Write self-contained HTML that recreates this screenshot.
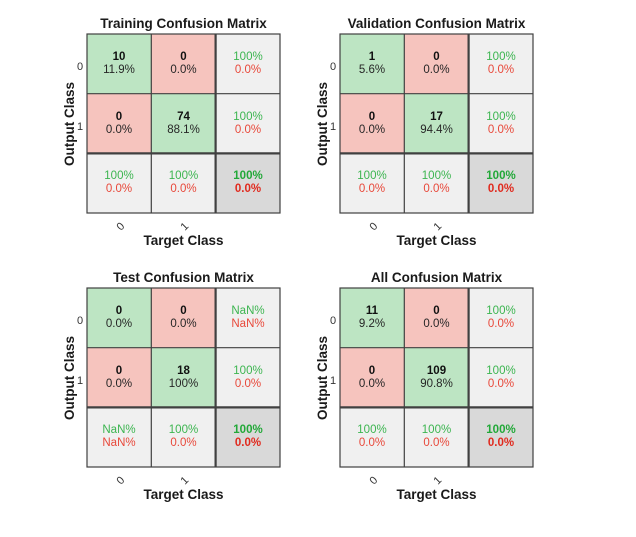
<!DOCTYPE html>
<html><head><meta charset="utf-8"><style>
html,body{margin:0;padding:0;background:#fff;}
svg{display:block;font-family:"Liberation Sans",Arial,sans-serif;}
.t{font-size:13.5px;font-weight:bold;fill:#1a1a1a;text-anchor:middle}
.n{font-size:11.5px;font-weight:bold;fill:#111;text-anchor:middle}
.p{font-size:11.5px;fill:#262626;text-anchor:middle}
.g{font-size:11.5px;fill:#3cb550;text-anchor:middle}
.r{font-size:11.5px;fill:#e8483a;text-anchor:middle}
.gb{font-size:11.5px;font-weight:bold;fill:#22a838;text-anchor:middle}
.rb{font-size:11.5px;font-weight:bold;fill:#e02a1e;text-anchor:middle}
.k{font-size:11px;fill:#333;text-anchor:middle}
.ax{font-size:13.5px;font-weight:bold;fill:#1a1a1a;text-anchor:middle}
</style></head><body>
<svg width="636" height="537" viewBox="0 0 636 537">
<defs>
<g id="bg">
<rect x="0" y="0" width="64.3" height="59.7" fill="#bde5c3"/>
<rect x="64.3" y="0" width="64.3" height="59.7" fill="#f6c4be"/>
<rect x="128.6" y="0" width="64.4" height="59.7" fill="#f0f0f0"/>
<rect x="0" y="59.7" width="64.3" height="59.7" fill="#f6c4be"/>
<rect x="64.3" y="59.7" width="64.3" height="59.7" fill="#bde5c3"/>
<rect x="128.6" y="59.7" width="64.4" height="59.7" fill="#f0f0f0"/>
<rect x="0" y="119.4" width="64.3" height="59.6" fill="#f0f0f0"/>
<rect x="64.3" y="119.4" width="64.3" height="59.6" fill="#f0f0f0"/>
<rect x="128.6" y="119.4" width="64.4" height="59.6" fill="#d9d9d9"/>
<g stroke="#404040" stroke-width="1.2" fill="none">
<rect x="0" y="0" width="193" height="179"/>
<line x1="64.3" y1="0" x2="64.3" y2="179"/>
<line x1="0" y1="59.7" x2="193" y2="59.7"/>
</g>
<g stroke="#404040" stroke-width="2.2">
<line x1="128.6" y1="0" x2="128.6" y2="179"/>
<line x1="0" y1="119.4" x2="193" y2="119.4"/>
</g>
</g>
<g id="ax">
<text x="-7" y="36" font-size="11" fill="#333" text-anchor="middle">0</text>
<text x="-7" y="96" font-size="11" fill="#333" text-anchor="middle">1</text>
<text class="ax" transform="translate(-13,90) rotate(-90)">Output Class</text>
<text class="k" transform="translate(36,195) rotate(-45)">0</text>
<text class="k" transform="translate(100,195) rotate(-45)">1</text>
<text class="ax" x="96.5" y="211">Target Class</text>
</g>
</defs>

<g transform="translate(87,34)">
<use href="#bg"/><use href="#ax"/>
<text class="t" x="96.5" y="-6">Training Confusion Matrix</text>
<text class="n" x="32" y="26">10</text><text class="p" x="32" y="39">11.9%</text>
<text class="n" x="96.5" y="26">0</text><text class="p" x="96.5" y="39">0.0%</text>
<text class="g" x="161" y="26">100%</text><text class="r" x="161" y="39">0.0%</text>
<text class="n" x="32" y="86">0</text><text class="p" x="32" y="99">0.0%</text>
<text class="n" x="96.5" y="86">74</text><text class="p" x="96.5" y="99">88.1%</text>
<text class="g" x="161" y="86">100%</text><text class="r" x="161" y="99">0.0%</text>
<text class="g" x="32" y="145">100%</text><text class="r" x="32" y="158">0.0%</text>
<text class="g" x="96.5" y="145">100%</text><text class="r" x="96.5" y="158">0.0%</text>
<text class="gb" x="161" y="145">100%</text><text class="rb" x="161" y="158">0.0%</text>
</g>

<g transform="translate(340,34)">
<use href="#bg"/><use href="#ax"/>
<text class="t" x="96.5" y="-6">Validation Confusion Matrix</text>
<text class="n" x="32" y="26">1</text><text class="p" x="32" y="39">5.6%</text>
<text class="n" x="96.5" y="26">0</text><text class="p" x="96.5" y="39">0.0%</text>
<text class="g" x="161" y="26">100%</text><text class="r" x="161" y="39">0.0%</text>
<text class="n" x="32" y="86">0</text><text class="p" x="32" y="99">0.0%</text>
<text class="n" x="96.5" y="86">17</text><text class="p" x="96.5" y="99">94.4%</text>
<text class="g" x="161" y="86">100%</text><text class="r" x="161" y="99">0.0%</text>
<text class="g" x="32" y="145">100%</text><text class="r" x="32" y="158">0.0%</text>
<text class="g" x="96.5" y="145">100%</text><text class="r" x="96.5" y="158">0.0%</text>
<text class="gb" x="161" y="145">100%</text><text class="rb" x="161" y="158">0.0%</text>
</g>

<g transform="translate(87,288)">
<use href="#bg"/><use href="#ax"/>
<text class="t" x="96.5" y="-6">Test Confusion Matrix</text>
<text class="n" x="32" y="26">0</text><text class="p" x="32" y="39">0.0%</text>
<text class="n" x="96.5" y="26">0</text><text class="p" x="96.5" y="39">0.0%</text>
<text class="g" x="161" y="26">NaN%</text><text class="r" x="161" y="39">NaN%</text>
<text class="n" x="32" y="86">0</text><text class="p" x="32" y="99">0.0%</text>
<text class="n" x="96.5" y="86">18</text><text class="p" x="96.5" y="99">100%</text>
<text class="g" x="161" y="86">100%</text><text class="r" x="161" y="99">0.0%</text>
<text class="g" x="32" y="145">NaN%</text><text class="r" x="32" y="158">NaN%</text>
<text class="g" x="96.5" y="145">100%</text><text class="r" x="96.5" y="158">0.0%</text>
<text class="gb" x="161" y="145">100%</text><text class="rb" x="161" y="158">0.0%</text>
</g>

<g transform="translate(340,288)">
<use href="#bg"/><use href="#ax"/>
<text class="t" x="96.5" y="-6">All Confusion Matrix</text>
<text class="n" x="32" y="26">11</text><text class="p" x="32" y="39">9.2%</text>
<text class="n" x="96.5" y="26">0</text><text class="p" x="96.5" y="39">0.0%</text>
<text class="g" x="161" y="26">100%</text><text class="r" x="161" y="39">0.0%</text>
<text class="n" x="32" y="86">0</text><text class="p" x="32" y="99">0.0%</text>
<text class="n" x="96.5" y="86">109</text><text class="p" x="96.5" y="99">90.8%</text>
<text class="g" x="161" y="86">100%</text><text class="r" x="161" y="99">0.0%</text>
<text class="g" x="32" y="145">100%</text><text class="r" x="32" y="158">0.0%</text>
<text class="g" x="96.5" y="145">100%</text><text class="r" x="96.5" y="158">0.0%</text>
<text class="gb" x="161" y="145">100%</text><text class="rb" x="161" y="158">0.0%</text>
</g>
</svg>
</body></html>
